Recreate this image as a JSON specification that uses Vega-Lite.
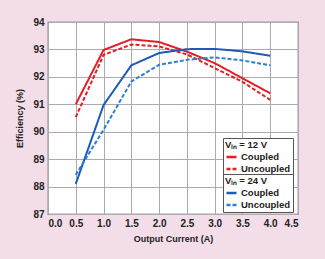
{
  "$schema": "https://vega.github.io/schema/vega-lite/v6.json",
  "autosize": "none",
  "width": 250,
  "height": 192,
  "padding": {"left": 48, "top": 22, "right": 27, "bottom": 45},
  "background": "#f3dde8",
  "config": {
    "font": "Liberation Sans",
    "view": {"fill": "white", "stroke": "#555", "strokeWidth": 1.2},
    "axis": {
      "labelFont": "Liberation Sans", "labelFontWeight": "bold", "labelFontSize": 10, "labelColor": "#222",
      "titleFont": "Liberation Sans", "titleFontWeight": "bold", "titleFontSize": 9, "titleColor": "#222",
      "gridColor": "#b0a8b0", "gridWidth": 1, "gridOpacity": 1,
      "domain": false, "ticks": false, "labelPadding": 4
    },
    "legend": {
      "titleFont": "Liberation Sans", "titleFontWeight": "bold", "titleFontSize": 9.5, "titleColor": "#222",
      "labelFont": "Liberation Sans", "labelFontWeight": "bold", "labelFontSize": 9.5, "labelColor": "#222",
      "symbolType": "stroke", "symbolStrokeWidth": 2.5, "symbolSize": 100,
      "rowPadding": 0, "padding": 2, "titlePadding": 1, "labelOffset": 3,
      "fillColor": "white", "strokeColor": "#555"
    }
  },
  "data": {"values": [
    {"x": 0.5, "v": "12", "c": "Coupled", "y": 91.0},
    {"x": 1.0, "v": "12", "c": "Coupled", "y": 92.98},
    {"x": 1.5, "v": "12", "c": "Coupled", "y": 93.37},
    {"x": 2.0, "v": "12", "c": "Coupled", "y": 93.27},
    {"x": 2.5, "v": "12", "c": "Coupled", "y": 92.92},
    {"x": 3.0, "v": "12", "c": "Coupled", "y": 92.5},
    {"x": 3.5, "v": "12", "c": "Coupled", "y": 91.95},
    {"x": 4.0, "v": "12", "c": "Coupled", "y": 91.4},
    {"x": 0.5, "v": "12", "c": "Uncoupled", "y": 90.53},
    {"x": 1.0, "v": "12", "c": "Uncoupled", "y": 92.8},
    {"x": 1.5, "v": "12", "c": "Uncoupled", "y": 93.18},
    {"x": 2.0, "v": "12", "c": "Uncoupled", "y": 93.11},
    {"x": 2.5, "v": "12", "c": "Uncoupled", "y": 92.82},
    {"x": 3.0, "v": "12", "c": "Uncoupled", "y": 92.32},
    {"x": 3.5, "v": "12", "c": "Uncoupled", "y": 91.82},
    {"x": 4.0, "v": "12", "c": "Uncoupled", "y": 91.16},
    {"x": 0.5, "v": "24", "c": "Coupled", "y": 88.1},
    {"x": 1.0, "v": "24", "c": "Coupled", "y": 90.97},
    {"x": 1.5, "v": "24", "c": "Coupled", "y": 92.42},
    {"x": 2.0, "v": "24", "c": "Coupled", "y": 92.87},
    {"x": 2.5, "v": "24", "c": "Coupled", "y": 93.01},
    {"x": 3.0, "v": "24", "c": "Coupled", "y": 93.02},
    {"x": 3.5, "v": "24", "c": "Coupled", "y": 92.93},
    {"x": 4.0, "v": "24", "c": "Coupled", "y": 92.77},
    {"x": 0.5, "v": "24", "c": "Uncoupled", "y": 88.43},
    {"x": 1.0, "v": "24", "c": "Uncoupled", "y": 90.07},
    {"x": 1.5, "v": "24", "c": "Uncoupled", "y": 91.83},
    {"x": 2.0, "v": "24", "c": "Uncoupled", "y": 92.44},
    {"x": 2.5, "v": "24", "c": "Uncoupled", "y": 92.62},
    {"x": 3.0, "v": "24", "c": "Uncoupled", "y": 92.71},
    {"x": 3.5, "v": "24", "c": "Uncoupled", "y": 92.6},
    {"x": 4.0, "v": "24", "c": "Uncoupled", "y": 92.42}
  ]},
  "encoding": {
    "x": {"field": "x", "type": "quantitative", "scale": {"domain": [0, 4.5], "nice": false},
          "axis": {"values": [0, 0.5, 1, 1.5, 2, 2.5, 3, 3.5, 4, 4.5], "format": ".1f", "title": "Output Current (A)", "titlePadding": 6}},
    "y": {"field": "y", "type": "quantitative", "scale": {"domain": [87, 94], "nice": false, "zero": false},
          "axis": {"values": [87, 88, 89, 90, 91, 92, 93, 94], "title": "Efficiency (%)", "titlePadding": 8}}
  },
  "layer": [
    {
      "transform": [{"filter": "datum.v == '12'"}],
      "mark": {"type": "line", "strokeWidth": 2},
      "encoding": {
        "color": {"field": "c", "type": "nominal", "scale": {"domain": ["Coupled", "Uncoupled"], "range": ["#e41e26", "#e41e26"]},
                  "legend": {"title": "Vᵢₙ = 12 V", "orient": "none", "legendX": 175, "legendY": 116}},
        "strokeDash": {"field": "c", "type": "nominal", "scale": {"domain": ["Coupled", "Uncoupled"], "range": [[1, 0], [4, 2]]},
                  "legend": {"title": "Vᵢₙ = 12 V", "orient": "none", "legendX": 175, "legendY": 116}}
      }
    },
    {
      "transform": [{"filter": "datum.v == '24'"}],
      "mark": {"type": "line", "strokeWidth": 2},
      "encoding": {
        "color": {"field": "c", "type": "nominal", "scale": {"domain": ["Coupled", "Uncoupled"], "range": ["#1d5bb8", "#2e7fd2"]},
                  "legend": {"title": "Vᵢₙ = 24 V", "orient": "none", "legendX": 175, "legendY": 152}},
        "strokeDash": {"field": "c", "type": "nominal", "scale": {"domain": ["Coupled", "Uncoupled"], "range": [[1, 0], [4, 2]]},
                  "legend": {"title": "Vᵢₙ = 24 V", "orient": "none", "legendX": 175, "legendY": 152}}
      }
    }
  ],
  "resolve": {"scale": {"color": "independent", "strokeDash": "independent"}}
}
